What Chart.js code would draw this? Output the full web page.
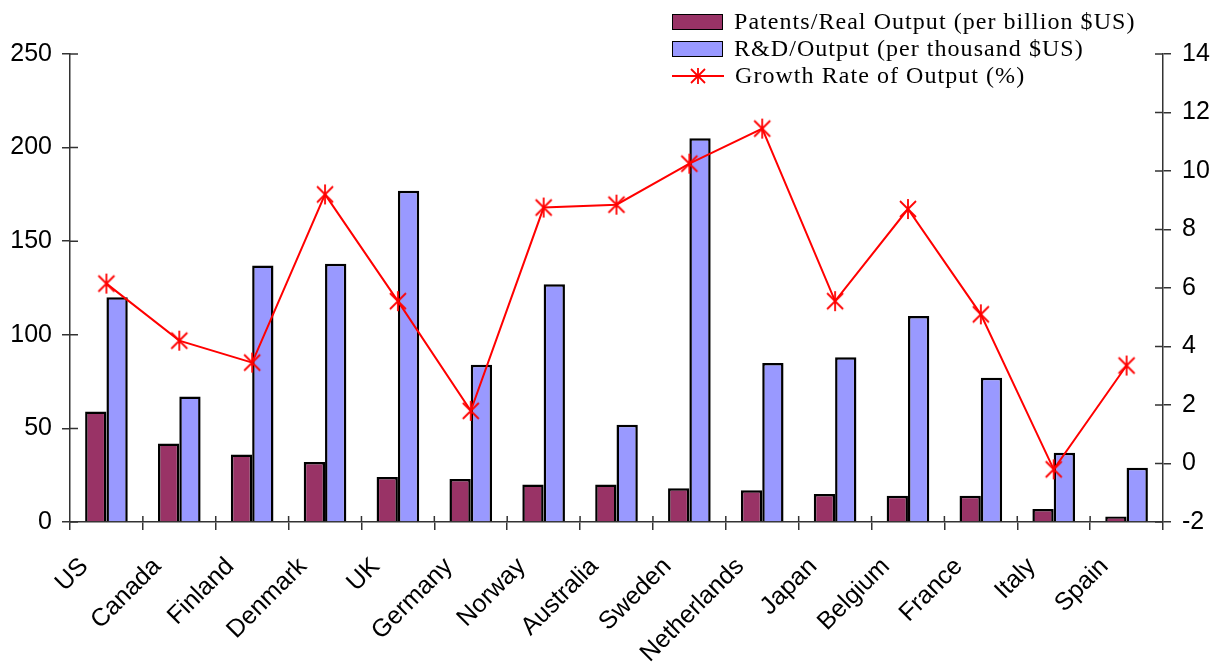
<!DOCTYPE html>
<html>
<head>
<meta charset="utf-8">
<script src="https://cdn.jsdelivr.net/npm/chart.js@4"></script>
<style>
    html, body { margin: 0; padding: 0; background: #fff; }
    #wrap { position: relative; width: 1218px; height: 671px; }
    #legend {
        position: absolute; left: 672px; top: 8px;
        font-family: "Liberation Serif", "Times New Roman", serif;
        font-size: 24px; letter-spacing: 1.05px; color: #000;
    }
    .row { display: flex; align-items: center; height: 27px; white-space: nowrap; }
    .sw { width: 49px; height: 14px; border: 1.5px solid #000; margin-right: 11px; }
    .row svg { margin-right: 11px; }
</style>
</head>
<body>
<div id="wrap">
    <canvas id="chart" width="1218" height="671"></canvas>
    <div id="legend"></div>
</div>
<script>
// Дані з графіка
const countries = ['US', 'Canada', 'Finland', 'Denmark', 'UK', 'Germany', 'Norway', 'Australia',
    'Sweden', 'Netherlands', 'Japan', 'Belgium', 'France', 'Italy', 'Spain'];
const patents = [59, 42, 36, 32, 24, 23, 20, 20, 18, 17, 15, 14, 14, 7, 3];
const rdOutput = [120, 67, 137, 138, 177, 84, 127, 52, 205, 85, 88, 110, 77, 37, 29];
const growth = [6.15, 4.2, 3.45, 9.2, 5.55, 1.8, 8.75, 8.85, 10.25, 11.45, 5.55, 8.7, 5.1, -0.2, 3.35];

const seriesNames = ['Patents/Real Output (per billion $US)', 'R&D/Output (per thousand $US)', 'Growth Rate of Output (%)'];
const leftTicks = [0, 50, 100, 150, 200, 250];
const rightTicks = [-2, 0, 2, 4, 6, 8, 10, 12, 14];

const axisColor = '#333';
const tickFont = { family: '"Liberation Sans", Arial, sans-serif', size: 25 };

// Маркер-зірочка (X + вертикальна лінія)
function makeStar(size) {
    const c = document.createElement('canvas');
    c.width = size; c.height = size;
    const g = c.getContext('2d');
    const h = size / 2, r = size / 2 - 1;
    g.strokeStyle = '#ff0000';
    g.lineWidth = 1.8;
    g.beginPath();
    g.moveTo(h, h - r); g.lineTo(h, h + r);
    g.moveTo(h - r * 0.8, h - r * 0.8); g.lineTo(h + r * 0.8, h + r * 0.8);
    g.moveTo(h + r * 0.8, h - r * 0.8); g.lineTo(h - r * 0.8, h + r * 0.8);
    g.stroke();
    return c;
}
const star = makeStar(22);

// Короткі риски всередину від осей
const innerTicks = {
    id: 'innerTicks',
    afterDatasetsDraw(chart) {
        const { ctx, scales } = chart;
        ctx.save();
        ctx.strokeStyle = axisColor;
        ctx.lineWidth = 1.5;
        ctx.beginPath();
        const y = scales.y, y1 = scales.y1, x = scales.x;
        y.ticks.forEach((t, i) => {
            const p = y.getPixelForTick(i);
            ctx.moveTo(y.right, p); ctx.lineTo(y.right + 8, p);
        });
        y1.ticks.forEach((t, i) => {
            const p = y1.getPixelForTick(i);
            ctx.moveTo(y1.left, p); ctx.lineTo(y1.left - 8, p);
        });
        for (let i = 1; i < x.ticks.length; i++) {
            const p = (x.getPixelForTick(i - 1) + x.getPixelForTick(i)) / 2;
            ctx.moveTo(p, x.top); ctx.lineTo(p, x.top - 6);
        }
        ctx.stroke();
        ctx.restore();
    }
};

new Chart(document.getElementById('chart'), {
    type: 'bar',
    data: {
        labels: countries,
        datasets: [
            {
                type: 'line',
                label: seriesNames[2],
                data: growth,
                yAxisID: 'y1',
                borderColor: '#ff0000',
                borderWidth: 2,
                pointStyle: star,
                pointRadius: 11,
                tension: 0,
                order: 0
            },
            {
                label: seriesNames[0],
                data: patents,
                yAxisID: 'y',
                backgroundColor: '#993366',
                borderColor: '#000',
                borderWidth: 2.5,
                categoryPercentage: 0.585,
                barPercentage: 1,
                order: 1
            },
            {
                label: seriesNames[1],
                data: rdOutput,
                yAxisID: 'y',
                backgroundColor: '#9999ff',
                borderColor: '#000',
                borderWidth: 2.5,
                categoryPercentage: 0.585,
                barPercentage: 1,
                order: 1
            }
        ]
    },
    options: {
        responsive: false,
        animation: false,
        layout: { padding: { top: 54, left: 0, right: 0, bottom: 0 } },
        plugins: {
            legend: { display: false },
            tooltip: { enabled: false }
        },
        scales: {
            x: {
                grid: { drawOnChartArea: false, color: axisColor, lineWidth: 1.5, tickLength: 8, offset: true },
                border: { color: axisColor, width: 1.5 },
                ticks: { color: '#000', font: tickFont, minRotation: 45, maxRotation: 45,
                    padding: 22, labelOffset: -22, autoSkip: false },
                afterFit: s => { s.height = 149; }
            },
            y: {
                position: 'left',
                min: 0, max: 250,
                afterBuildTicks: s => { s.ticks = leftTicks.map(v => ({ value: v })); },
                grid: { drawOnChartArea: false, color: axisColor, lineWidth: 1.5, tickLength: 8 },
                border: { color: axisColor, width: 1.5 },
                ticks: { color: '#000', font: tickFont, padding: 10 },
                afterFit: s => { s.width = 70; }
            },
            y1: {
                position: 'right',
                min: -2, max: 14,
                afterBuildTicks: s => { s.ticks = rightTicks.map(v => ({ value: v })); },
                grid: { drawOnChartArea: false, color: axisColor, lineWidth: 1.5, tickLength: 8 },
                border: { color: axisColor, width: 1.5 },
                ticks: { color: '#000', font: tickFont, padding: 11 },
                afterFit: s => { s.width = 55; }
            }
        }
    },
    plugins: [innerTicks]
});

// Легенда
const legend = document.getElementById('legend');
const swatchColors = ['#993366', '#9999ff'];
seriesNames.forEach((name, i) => {
    const row = document.createElement('div');
    row.className = 'row';
    if (i < 2) {
        row.innerHTML = `<div class="sw" style="background:${swatchColors[i]}"></div>`;
    } else {
        row.innerHTML = `<svg width="52" height="18" viewBox="0 0 52 18">
            <line x1="0" y1="9" x2="52" y2="9" stroke="#f00" stroke-width="2"/>
            <line x1="26" y1="1" x2="26" y2="17" stroke="#f00" stroke-width="1.8"/>
            <line x1="19" y1="2" x2="33" y2="16" stroke="#f00" stroke-width="1.8"/>
            <line x1="33" y1="2" x2="19" y2="16" stroke="#f00" stroke-width="1.8"/>
        </svg>`;
    }
    const span = document.createElement('span');
    span.textContent = name;
    row.appendChild(span);
    legend.appendChild(row);
});
</script>
</body>
</html>
